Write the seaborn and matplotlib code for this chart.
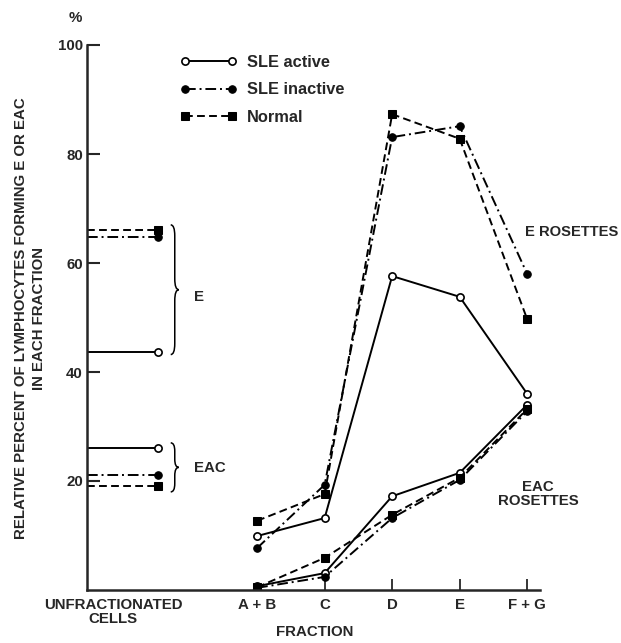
import numpy as np
import pandas as pd
import matplotlib
matplotlib.use('Agg')
import matplotlib.pyplot as plt
import seaborn as sns
from matplotlib.path import Path
from matplotlib.patches import PathPatch

# categories on the x axis
fractions = ['A + B', 'C', 'D', 'E', 'F + G']
frac_pos = [1, 2, 3, 4, 5]

# E rosettes (% of lymphocytes)
e_active = [9.9, 13.2, 57.6, 53.8, 36.0]
e_inactive = [7.7, 19.3, 83.1, 85.1, 58.0]
e_normal = [12.7, 17.6, 87.3, 82.8, 49.7]

# EAC rosettes
eac_active = [0.7, 3.1, 17.2, 21.5, 34.0]
eac_inactive = [0.4, 2.4, 13.2, 20.2, 32.8]
eac_normal = [0.5, 5.9, 13.8, 20.6, 33.2]

# unfractionated cells: [E, EAC]
unfrac_active = [43.7, 26.1]
unfrac_inactive = [64.8, 21.1]
unfrac_normal = [66.1, 19.1]

sns.set_style('ticks')
plt.rcParams['font.family'] = ['Liberation Sans', 'DejaVu Sans']
plt.rcParams['font.weight'] = 'bold'

X_MIN, X_MAX = -1.52, 5.19
UNFRAC_X = -0.47
UNFRAC_LABEL_X = -1.13
FS = 10.8

styles = {
    'SLE active': dict(linestyle='-', marker='o', markerfacecolor='white',
                       markeredgecolor='black', markersize=5.2, markeredgewidth=1.2),
    'SLE inactive': dict(linestyle=(0, (5.5, 2, 1, 2)), marker='o', markerfacecolor='black',
                         markeredgecolor='black', markersize=5.4),
    'Normal': dict(linestyle=(0, (4, 2.2)), marker='s', markerfacecolor='black',
                   markeredgecolor='black', markersize=5.4),
}

fig = plt.figure(figsize=(6.21, 6.43), dpi=100)
ax = fig.add_axes([87 / 621, 1 - 590 / 643, 453 / 621, 545 / 643])

groups = [
    ('SLE active', e_active, eac_active, unfrac_active),
    ('SLE inactive', e_inactive, eac_inactive, unfrac_inactive),
    ('Normal', e_normal, eac_normal, unfrac_normal),
]

for name, e_vals, eac_vals, unf in groups:
    st = styles[name]
    sns.lineplot(x=frac_pos, y=e_vals, ax=ax, color='black', lw=1.4, label=name, **st)
    sns.lineplot(x=frac_pos, y=eac_vals, ax=ax, color='black', lw=1.4, label='_nolegend_', **st)
    for v in unf:
        sns.lineplot(x=[X_MIN, UNFRAC_X], y=[v, v], ax=ax, color='black', lw=1.4,
                     markevery=[1], label='_nolegend_', **st)


def brace(ax, x, y0, y1, w=0.06, d=2.0):
    ym = (y0 + y1) / 2
    verts = [(x - w, y1), (x, y1), (x, y1 - d),
             (x, ym + d),
             (x, ym), (x + w, ym),
             (x, ym), (x, ym - d),
             (x, y0 + d),
             (x, y0), (x - w, y0)]
    codes = [Path.MOVETO, Path.CURVE3, Path.CURVE3,
             Path.LINETO,
             Path.CURVE3, Path.CURVE3,
             Path.CURVE3, Path.CURVE3,
             Path.LINETO,
             Path.CURVE3, Path.CURVE3]
    ax.add_patch(PathPatch(Path(verts, codes), fill=False, lw=1.1, color='black', clip_on=False))


brace(ax, -0.22, 43.2, 67.0)
brace(ax, -0.22, 18.0, 27.0, d=1.5)
ax.text(0.06, 53.8, 'E', fontsize=FS, va='center', ha='left')
ax.text(0.06, 22.4, 'EAC', fontsize=FS, va='center', ha='left')
ax.text(4.97, 65.7, 'E ROSETTES', fontsize=10.6, va='center', ha='left')
ax.text(5.16, 17.6, 'EAC\nROSETTES', fontsize=FS, va='center', ha='center', linespacing=0.95)

ax.set_xlim(X_MIN, X_MAX)
ax.set_ylim(0, 100)
sns.despine(ax=ax)
for sp in ['left', 'bottom']:
    ax.spines[sp].set_linewidth(1.8)

ax.set_yticks([20, 40, 60, 80, 100])
ax.tick_params(axis='y', direction='in', length=9, width=1.5, labelsize=FS, pad=3)
ax.set_xticks([UNFRAC_LABEL_X] + frac_pos)
ax.set_xticklabels(['UNFRACTIONATED\nCELLS'] + fractions, linespacing=0.95)
ax.tick_params(axis='x', direction='in', length=8, width=1.3, labelsize=FS, pad=6)
xt = ax.xaxis.get_major_ticks()
xt[0].tick1line.set_visible(False)
xt[1].tick1line.set_visible(False)

fig.text(75 / 621, 1 - 18 / 643, '%', fontsize=FS, ha='center', va='center')
fig.text(315 / 621, 1 - 632 / 643, 'FRACTION', fontsize=FS, ha='center', va='center')
fig.text(30 / 621, 1 - 318 / 643,
         'RELATIVE PERCENT OF LYMPHOCYTES FORMING E OR EAC\nIN EACH FRACTION',
         rotation=90, fontsize=FS, ha='center', va='center', linespacing=1.45)

ax.legend(loc='upper left', bbox_to_anchor=(180 / 621, 1 - 55 / 643),
          bbox_transform=fig.transFigure, frameon=False, numpoints=2,
          handlelength=3.5, handletextpad=0.6, labelspacing=0.75,
          borderpad=0, borderaxespad=0, prop={'size': 11.8, 'weight': 'bold'})

fig.savefig('out.png', dpi=100)
